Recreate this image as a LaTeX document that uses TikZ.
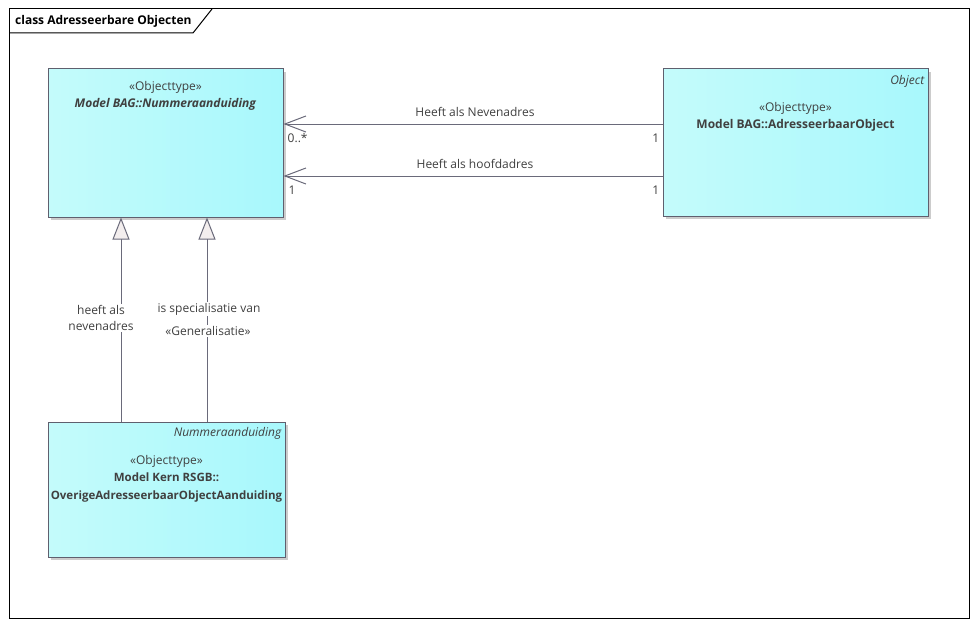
\documentclass[tikz,border=0pt]{standalone}
\usepackage{fontspec}
\setmainfont{Open Sans}
\usetikzlibrary{arrows.meta,calc}
\definecolor{txt}{HTML}{404040}
\definecolor{edge}{HTML}{6A6A7A}
\definecolor{boxl}{HTML}{C4FBFB}
\definecolor{boxr}{HTML}{A8F8FC}
\definecolor{tri}{HTML}{F3EEEE}
\newcommand{\fsz}{\fontsize{12}{17.5}\selectfont}
\newcommand{\fszb}{\fontsize{11.5}{17.5}\selectfont}
\tikzset{
  cls/.style={draw=edge!90!black, line width=1pt, left color=boxl, right color=boxr, inner sep=0pt},
  shadowbox/.style={fill=gray!40, draw=none},
  assoc/.style={draw=edge, line width=1pt, -{Straight Barb[length=21pt,width=16pt,line width=1pt]}},
  gen/.style={draw=edge, line width=1pt, -{Triangle[open,length=22pt,width=17pt,fill=tri,line width=1pt]}},
  lbl/.style={font=\fsz, text=txt, inner sep=1pt},
  wlbl/.style={lbl, fill=white, align=center, font=\fontsize{12}{18}\selectfont},
  ttl/.style={font=\fsz, text=txt, align=center},
}
\begin{document}
\begin{tikzpicture}[x=1pt,y=-1pt]
\useasboundingbox (0,0) rectangle (977,626);
\fill[white] (0,0) rectangle (977,626);
% frame
\draw[black, line width=1pt] (9,9) rectangle (969,618);
\draw[black, line width=1pt] (9,33) -- (193,33) -- (212,9);
\node[anchor=west, font=\bfseries\fsz, text=black, inner sep=0pt] (title) at (15,21) {class Adresseerbare Objecten};
% shadows
\fill[shadowbox] (51,72) rectangle (286,220);
\fill[shadowbox] (666,72) rectangle (931,219);
\fill[shadowbox] (51,425) rectangle (288,560);
% boxes
\node[cls, minimum width=235pt, minimum height=148pt] (A) at (165.5,143) {};
\node[cls, minimum width=265pt, minimum height=147pt] (B) at (795.5,142.5) {};
\node[cls, minimum width=237pt, minimum height=135pt] (C) at (166.5,489.5) {};
% box texts
\node[ttl, anchor=north] (At) at ($(A.north)+(0,9)$) {«Objecttype»\\\textbf{\textit{Model BAG::Nummeraanduiding}}};
\node[lbl, anchor=north east, font=\itshape\fsz] (Bs) at ($(B.north east)+(-3,6)$) {Object};
\node[ttl, anchor=north] (Bt) at ($(B.north)+(0,30)$) {«Objecttype»\\\textbf{Model BAG::AdresseerbaarObject}};
\node[lbl, anchor=north east, font=\itshape\fsz] (Cs) at ($(C.north east)+(-3,5)$) {Nummeraanduiding};
\node[ttl, anchor=north] (Ct) at ($(C.north)+(0,30)$) {«Objecttype»\\\textbf{\fszb Model Kern RSGB::}\\\textbf{\fszb OverigeAdresseerbaarObjectAanduiding}};
% associations
\coordinate (r1) at (0,124);
\coordinate (r2) at (0,176);
\draw[assoc] (B.west |- r1) -- (A.east |- r1);
\draw[assoc] (B.west |- r2) -- (A.east |- r2);
\node[lbl] (l1) at (475,112) {Heeft als Nevenadres};
\node[lbl] (l2) at (475,164) {Heeft als hoofdadres};
\node[lbl, anchor=west] (m1) at ($(A.east |- r1)+(3,14)$) {0..*};
\node[lbl, anchor=east] (m2) at ($(B.west |- r1)+(-2,14)$) {1};
\node[lbl, anchor=west] (m3) at ($(A.east |- r2)+(4,14)$) {1};
\node[lbl, anchor=east] (m4) at ($(B.west |- r2)+(-2,14)$) {1};
% generalizations
\coordinate (g1) at (121,0);
\coordinate (g2) at (207,0);
\draw[gen] (C.north -| g1) -- (A.south -| g1);
\draw[gen] (C.north -| g2) -- (A.south -| g2);
\node[wlbl] (gl1) at (101,318) {heeft als\\[-2pt]nevenadres};
\node[wlbl] (gl2) at (209,309) {is specialisatie van};
\node[wlbl] (gl3) at (208,331) {«Generalisatie»};
\end{tikzpicture}
\end{document}
